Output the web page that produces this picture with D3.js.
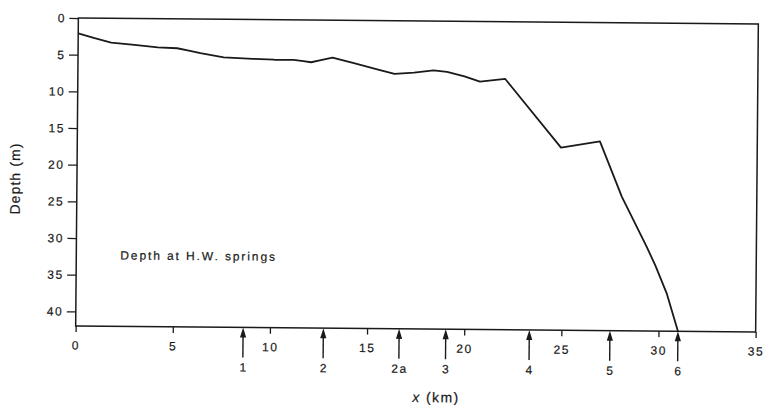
<!DOCTYPE html>
<html>
<head>
<meta charset="utf-8">
<script src="https://cdnjs.cloudflare.com/ajax/libs/d3/7.8.5/d3.min.js"></script>
<style>
    body { margin: 0; background: #fff; }
    svg text { font-family: "Liberation Sans", Arial, Helvetica, sans-serif; fill: #1a1a1a; stroke: #1a1a1a; stroke-width: 0.2px; }
</style>
</head>
<body>
<div class="chart"></div>
<script>

// bed profile: distance (km) and depth at H.W. springs (m)
var distKm = [0, 0.8, 1.7, 2.9, 4.1, 5.1, 5.7, 6.3, 7.5, 9.0, 10.1, 11.1, 11.6, 12.0, 12.5, 13.1,
    14.3, 15.5, 16.3, 17.3, 18.3, 19.0, 19.9, 20.7, 22.0, 24.9, 26.9, 28.05, 29.35, 29.8, 30.4, 31.0];
var depthM = [2.1, 2.7, 3.3, 3.6, 3.9, 4.0, 4.3, 4.65, 5.2, 5.35, 5.45, 5.45, 5.6, 5.75, 5.45, 5.1,
    5.9, 6.7, 7.25, 7.05, 6.7, 6.9, 7.5, 8.2, 7.8, 17.1, 16.2, 23.7, 30.5, 33.0, 36.8, 42];

// station markers along the axis
var stationNames = ["1", "2", "2a", "3", "4", "5", "6"];
var stationKm = [8.62, 12.75, 16.65, 19.05, 23.35, 27.5, 31.0];

var xTicks = [0, 5, 10, 15, 20, 25, 30, 35];
var yTicks = [0, 5, 10, 15, 20, 25, 30, 35, 40];

var DepthProfile = (function() {

    "use strict";

    var svg, g, x, y, width, height, ink;

    width = 763;
    height = 405;
    ink = "#1a1a1a";

    function makesvg () {
        svg = d3.select("div.chart")
            .append("svg")
            .attr("width", width)
            .attr("height", height);
        // the scanned figure sits slightly askew
        g = svg.append("g")
            .attr("transform", "rotate(0.5, 416, 175)");
        return svg;
    }

    function scales () {
        x = d3.scaleLinear().domain([0, 35]).range([77, 757]);
        y = d3.scaleLinear().domain([0, 42]).range([21, 329]);
    }

    function drawAxes () {
        var yAxis = g.append("g")
            .attr("transform", "translate(" + x(0) + ",0)")
            .call(d3.axisLeft(y).tickValues(yTicks).tickSize(9).tickPadding(5));

        var xAxis = g.append("g")
            .attr("transform", "translate(0," + y(42) + ")")
            .call(d3.axisBottom(x).tickValues(xTicks).tickSize(6).tickPadding(9));

        [yAxis, xAxis].forEach(function (a) {
            a.select(".domain").remove();
            a.selectAll("line").attr("stroke", ink).attr("stroke-width", 1.3);
            a.selectAll("text")
                .style("font-size", "12px")
                .style("letter-spacing", "1.6px")
                .attr("fill", ink);
        });
        yAxis.selectAll("text").attr("dx", "1.6px");

        // frame
        g.append("rect")
            .attr("x", x(0))
            .attr("y", y(0))
            .attr("width", x(35) - x(0))
            .attr("height", y(42) - y(0))
            .attr("fill", "none")
            .attr("stroke", ink)
            .attr("stroke-width", 1.5);

        g.append("text")
            .attr("transform", "translate(20,182) rotate(-90)")
            .attr("text-anchor", "middle")
            .style("font-size", "14px")
            .style("letter-spacing", "1.1px")
            .text("Depth (m)");

        var xl = g.append("text")
            .attr("x", 438)
            .attr("y", 402)
            .attr("text-anchor", "middle")
            .style("font-size", "14px")
            .style("letter-spacing", "1.4px");
        xl.append("tspan").style("font-style", "italic").text("x");
        xl.append("tspan").text(" (km)");
    }

    function drawProfile () {
        var pts = distKm.map(function (d, i) { return [d, depthM[i]]; });
        var line = d3.line()
            .x(function (d) { return x(d[0]); })
            .y(function (d) { return y(d[1]); });

        g.append("path")
            .datum(pts)
            .attr("d", line)
            .attr("fill", "none")
            .attr("stroke", ink)
            .attr("stroke-width", 1.8)
            .attr("stroke-linejoin", "round");

        g.append("text")
            .attr("x", 121)
            .attr("y", 262)
            .style("font-size", "12px")
            .style("letter-spacing", "1.9px")
            .text("Depth at H.W. springs");
    }

    function drawStations () {
        var base = y(42);
        var st = g.selectAll("g.station")
            .data(stationKm)
            .enter()
            .append("g")
            .attr("class", "station")
            .attr("transform", function (d) { return "translate(" + x(d) + "," + base + ")"; });

        st.append("line")
            .attr("y1", 6)
            .attr("y2", 30)
            .attr("stroke", ink)
            .attr("stroke-width", 1.4);

        st.append("path")
            .attr("d", "M0,0 L-3.1,10 L3.1,10 Z")
            .attr("fill", ink);

        st.append("text")
            .attr("y", 44)
            .attr("text-anchor", "middle")
            .style("font-size", "12px")
            .style("letter-spacing", "1.5px")
            .attr("dx", "0.75px")
            .text(function (d, i) { return stationNames[i]; });
    }

    function _view () {
        makesvg();
        scales();
        drawAxes();
        drawProfile();
        drawStations();
    }

    return _view;
})();

DepthProfile();
</script>
</body>
</html>
